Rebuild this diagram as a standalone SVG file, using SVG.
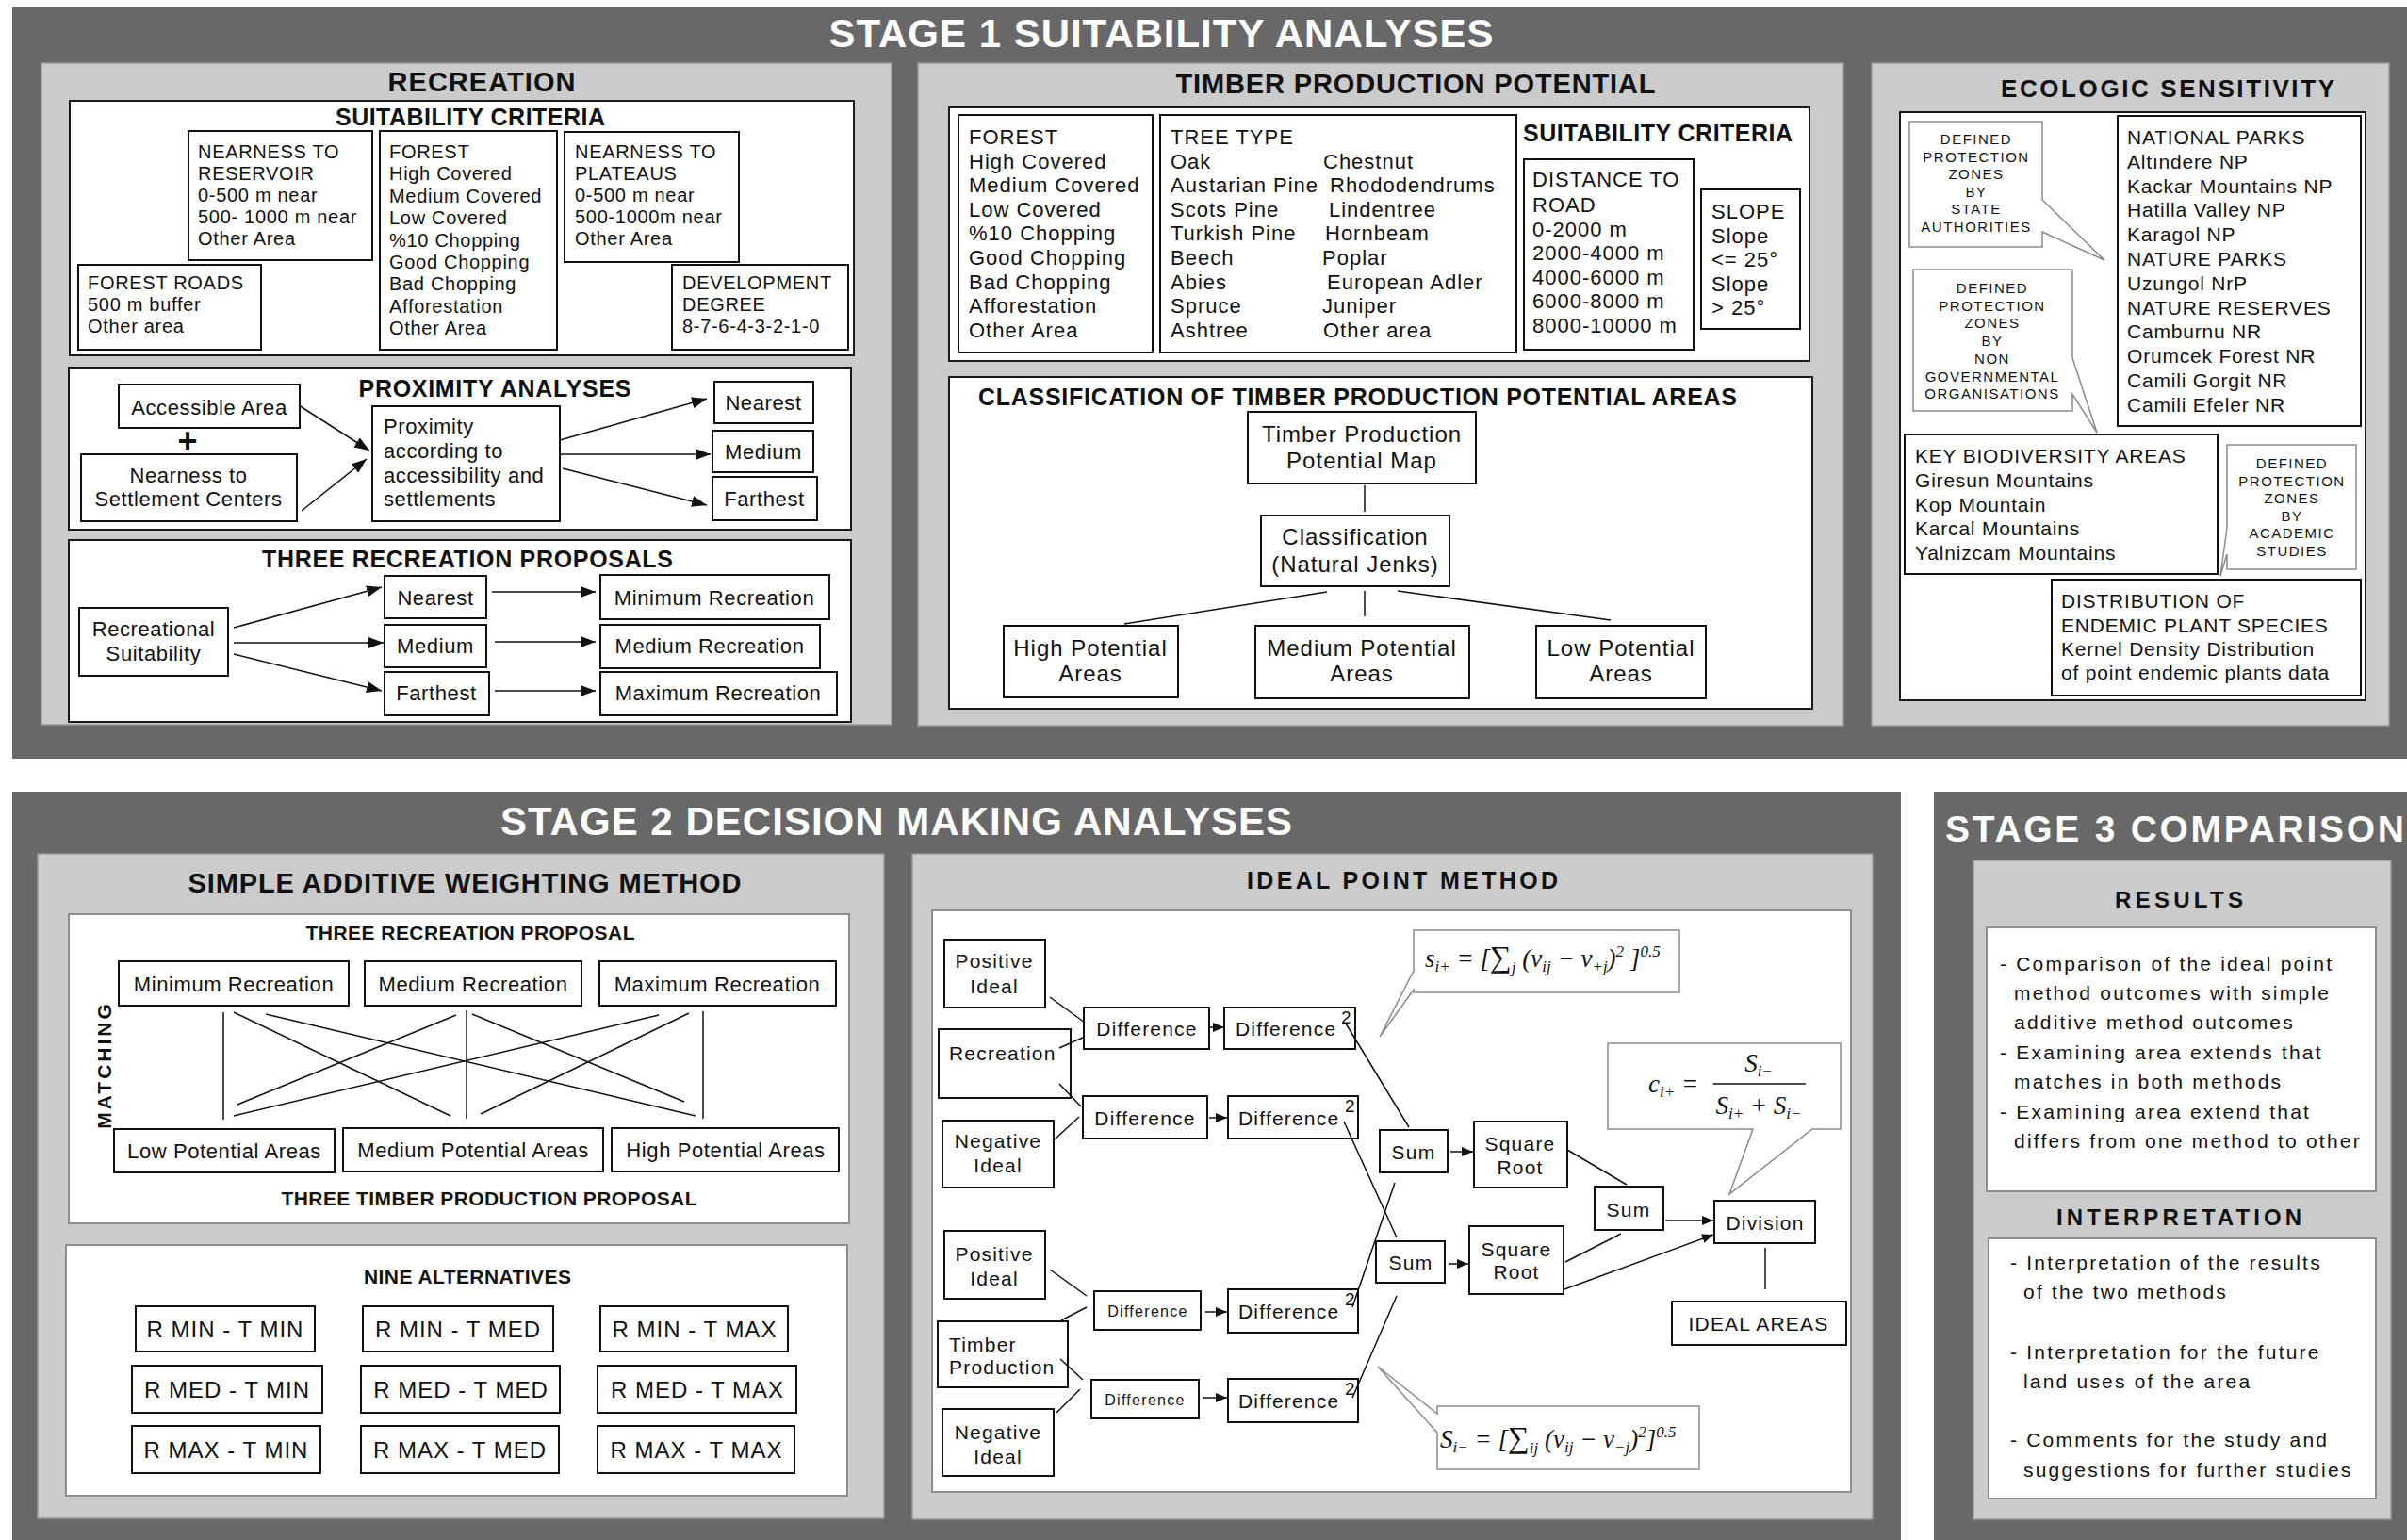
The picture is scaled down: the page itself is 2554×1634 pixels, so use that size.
<svg xmlns="http://www.w3.org/2000/svg" width="2554" height="1634" viewBox="0 0 2554 1634">
<defs>
<marker id="ah" viewBox="0 0 16 12" refX="16" refY="6" markerWidth="16" markerHeight="12" markerUnits="userSpaceOnUse" orient="auto"><path d="M0,0 L16,6 L0,12 Z" fill="#111"/></marker>
<marker id="as" viewBox="0 0 12 10" refX="12" refY="5" markerWidth="12" markerHeight="10" markerUnits="userSpaceOnUse" orient="auto"><path d="M0,0 L12,5 L0,10 Z" fill="#111"/></marker>
<style>
text{font-family:"Liberation Sans",Arial,Helvetica,sans-serif;fill:#111}
.dark{fill:#686868}
.panel{fill:#cbcbcb;stroke:#9a9a9a;stroke-width:1.5}
.wb{fill:#fff;stroke:#1a1a1a;stroke-width:2}
.wg{fill:#fff;stroke:#8e8e8e;stroke-width:2}
.b{fill:#fff;stroke:#111;stroke-width:2}
.co{fill:#fff;stroke:#8a8a8a;stroke-width:1.5}
.st{font-weight:bold;fill:#fff}
.h{font-weight:bold}
.m{text-anchor:middle}
.r20{font-size:20px;letter-spacing:0.7px}
.r22{font-size:22px;letter-spacing:0.6px}
.tm{font-size:22px;letter-spacing:1px}
.tc{font-size:24px;letter-spacing:1px}
.ec{font-size:21px;letter-spacing:0.8px}
.cs{font-size:15px;letter-spacing:1.5px}
.ip{font-size:21px;letter-spacing:1.2px}
.ips{font-size:16px;letter-spacing:1.3px}
.sup{font-size:19px}
.nine{font-size:24px;letter-spacing:1px}
.s3{font-size:21px;letter-spacing:2.2px}
.mth{font-family:"Liberation Serif","Times New Roman",serif;font-style:italic;font-size:27px}
.sb{font-size:17px}
.c{fill:none;stroke:#111;stroke-width:1.5}
.ab{marker-end:url(#ah)}
.as{marker-end:url(#as)}
</style>
</defs>
<rect width="2554" height="1634" fill="#fff"/>

<!-- STAGE 1 -->
<g id="stage1">
<rect class="dark" x="13" y="7" width="2541" height="798"/>
<text class="st m" x="1232" y="50" font-size="42" textLength="705">STAGE 1 SUITABILITY ANALYSES</text>
</g>

<g id="recreation">
<rect class="panel" x="44" y="67" width="902" height="702"/>
<text class="h m" x="511" y="97" font-size="29" textLength="199">RECREATION</text>
</g>
<g id="rec-criteria">
<rect class="wb" x="74" y="107" width="832" height="270"/>
<text class="h m" x="499" y="133" font-size="25" textLength="286">SUITABILITY CRITERIA</text>
</g>
<g id="rec-reservoir">
<rect class="b" x="200" y="139" width="195" height="137"/>
<text class="r20" x="210" y="168">NEARNESS TO<tspan x="210" dy="23">RESERVOIR</tspan><tspan x="210" dy="23">0-500 m near</tspan><tspan x="210" dy="23">500- 1000 m near</tspan><tspan x="210" dy="23">Other Area</tspan></text>
</g>
<g id="rec-forest">
<rect class="b" x="403" y="139" width="188" height="232"/>
<text class="r20" x="413" y="168">FOREST<tspan x="413" dy="23.4">High Covered</tspan><tspan x="413" dy="23.4">Medium Covered</tspan><tspan x="413" dy="23.4">Low Covered</tspan><tspan x="413" dy="23.4">%10 Chopping</tspan><tspan x="413" dy="23.4">Good Chopping</tspan><tspan x="413" dy="23.4">Bad Chopping</tspan><tspan x="413" dy="23.4">Afforestation</tspan><tspan x="413" dy="23.4">Other Area</tspan></text>
</g>
<g id="rec-plateaus">
<rect class="b" x="599" y="140" width="185" height="138"/>
<text class="r20" x="610" y="168">NEARNESS TO<tspan x="610" dy="23">PLATEAUS</tspan><tspan x="610" dy="23">0-500 m near</tspan><tspan x="610" dy="23">500-1000m near</tspan><tspan x="610" dy="23">Other Area</tspan></text>
</g>
<g id="rec-roads">
<rect class="b" x="83" y="281" width="194" height="90"/>
<text class="r20" x="93" y="307">FOREST ROADS<tspan x="93" dy="23">500 m buffer</tspan><tspan x="93" dy="23">Other area</tspan></text>
</g>
<g id="rec-devdegree">
<rect class="b" x="713" y="281" width="187" height="90"/>
<text class="r20" x="724" y="307">DEVELOPMENT<tspan x="724" dy="23">DEGREE</tspan><tspan x="724" dy="23">8-7-6-4-3-2-1-0</tspan></text>
</g>

<g id="rec-proximity">
<rect class="wb" x="73" y="390" width="830" height="172"/>
<text class="h m" x="525" y="421" font-size="25" textLength="289">PROXIMITY ANALYSES</text>
</g>
<g id="prox-accessible">
<rect class="b" x="126" y="408" width="192" height="46"/>
<text class="r22 m" x="222" y="440">Accessible Area</text>
</g>
<g id="prox-plus"><text class="h m" x="199" y="480" font-size="36">+</text></g>
<g id="prox-nearness">
<rect class="b" x="86" y="482" width="229" height="71"/>
<text class="r22 m" x="200" y="512">Nearness to<tspan x="200" dy="25">Settlement Centers</tspan></text>
</g>
<g id="prox-main">
<rect class="b" x="395" y="431" width="199" height="122"/>
<text class="r22" x="407" y="460">Proximity<tspan x="407" dy="26">according to</tspan><tspan x="407" dy="26">accessibility and</tspan><tspan x="407" dy="25">settlements</tspan></text>
</g>
<g id="prox-nearest">
<rect class="b" x="758" y="405" width="105" height="44"/>
<text class="r22 m" x="810" y="435">Nearest</text>
</g>
<g id="prox-medium">
<rect class="b" x="756" y="457" width="107" height="44"/>
<text class="r22 m" x="810" y="487">Medium</text>
</g>
<g id="prox-farthest">
<rect class="b" x="756" y="506" width="111" height="46"/>
<text class="r22 m" x="811" y="537">Farthest</text>
</g>

<g id="rec-proposals">
<rect class="wb" x="73" y="573" width="830" height="193"/>
<text class="h m" x="496" y="602" font-size="25" textLength="436">THREE RECREATION PROPOSALS</text>
</g>
<g id="prop-suitability">
<rect class="b" x="84" y="645" width="158" height="72"/>
<text class="r22 m" x="163" y="675">Recreational<tspan x="163" dy="26">Suitability</tspan></text>
</g>
<g id="prop-nearest">
<rect class="b" x="408" y="611" width="108" height="45"/>
<text class="r22 m" x="462" y="642">Nearest</text>
</g>
<g id="prop-medium">
<rect class="b" x="408" y="663" width="108" height="45"/>
<text class="r22 m" x="462" y="693">Medium</text>
</g>
<g id="prop-farthest">
<rect class="b" x="408" y="713" width="111" height="46"/>
<text class="r22 m" x="463" y="743">Farthest</text>
</g>
<g id="prop-minrec">
<rect class="b" x="637" y="610" width="243" height="47"/>
<text class="r22 m" x="758" y="642">Minimum Recreation</text>
</g>
<g id="prop-medrec">
<rect class="b" x="637" y="663" width="233" height="46"/>
<text class="r22 m" x="753" y="693">Medium Recreation</text>
</g>
<g id="prop-maxrec">
<rect class="b" x="637" y="713" width="251" height="46"/>
<text class="r22 m" x="762" y="743">Maximum Recreation</text>
</g>

<!-- TIMBER -->
<g id="timber">
<rect class="panel" x="974" y="67" width="982" height="703"/>
<text class="h m" x="1502" y="99" font-size="29" textLength="509">TIMBER PRODUCTION POTENTIAL</text>
</g>
<g id="timber-criteria">
<rect class="wb" x="1007" y="114" width="913" height="269"/>
<text class="h" x="1616" y="150" font-size="25" textLength="286">SUITABILITY CRITERIA</text>
</g>
<g id="timber-forest">
<rect class="b" x="1017" y="122" width="206" height="252"/>
<text class="tm" x="1028" y="153">FOREST<tspan x="1028" dy="25.6">High Covered</tspan><tspan x="1028" dy="25.6">Medium Covered</tspan><tspan x="1028" dy="25.6">Low Covered</tspan><tspan x="1028" dy="25.6">%10 Chopping</tspan><tspan x="1028" dy="25.6">Good Chopping</tspan><tspan x="1028" dy="25.6">Bad Chopping</tspan><tspan x="1028" dy="25.6">Afforestation</tspan><tspan x="1028" dy="25.6">Other Area</tspan></text>
</g>
<g id="timber-treetype">
<rect class="b" x="1231" y="122" width="378" height="252"/>
<text class="tm" x="1242" y="153">TREE TYPE<tspan x="1242" dy="25.6">Oak</tspan><tspan x="1242" dy="25.6">Austarian Pine</tspan><tspan x="1242" dy="25.6">Scots Pine</tspan><tspan x="1242" dy="25.6">Turkish Pine</tspan><tspan x="1242" dy="25.6">Beech</tspan><tspan x="1242" dy="25.6">Abies</tspan><tspan x="1242" dy="25.6">Spruce</tspan><tspan x="1242" dy="25.6">Ashtree</tspan></text>
<text class="tm" x="1404" y="178.6">Chestnut<tspan x="1411" dy="25.6">Rhododendrums</tspan><tspan x="1410" dy="25.6">Lindentree</tspan><tspan x="1406" dy="25.6">Hornbeam</tspan><tspan x="1403" dy="25.6">Poplar</tspan><tspan x="1408" dy="25.6">European Adler</tspan><tspan x="1403" dy="25.6">Juniper</tspan><tspan x="1404" dy="25.6">Other area</tspan></text>
</g>
<g id="timber-road">
<rect class="b" x="1617" y="169" width="180" height="202"/>
<text class="tm" x="1626" y="198">DISTANCE TO<tspan x="1626" dy="26.5">ROAD</tspan><tspan x="1626" dy="26">0-2000 m</tspan><tspan x="1626" dy="25.5">2000-4000 m</tspan><tspan x="1626" dy="25.5">4000-6000 m</tspan><tspan x="1626" dy="25.5">6000-8000 m</tspan><tspan x="1626" dy="25.5">8000-10000 m</tspan></text>
</g>
<g id="timber-slope">
<rect class="b" x="1805" y="201" width="105" height="148"/>
<text class="tm" x="1816" y="232">SLOPE<tspan x="1816" dy="25.5">Slope</tspan><tspan x="1816" dy="25.5">&lt;= 25°</tspan><tspan x="1816" dy="25.5">Slope</tspan><tspan x="1816" dy="25.5">&gt;  25°</tspan></text>
</g>

<g id="timber-classification">
<rect class="wb" x="1007" y="400" width="916" height="352"/>
<text class="h" x="1038" y="430" font-size="25" textLength="805">CLASSIFICATION OF TIMBER PRODUCTION POTENTIAL AREAS</text>
</g>
<g id="class-map">
<rect class="b" x="1324" y="437" width="242" height="76"/>
<text class="tc m" x="1445" y="469">Timber Production<tspan x="1445" dy="28">Potential Map</tspan></text>
</g>
<g id="class-jenks">
<rect class="b" x="1338" y="547" width="200" height="75"/>
<text class="tc m" x="1438" y="578">Classification<tspan x="1438" dy="29">(Natural Jenks)</tspan></text>
</g>
<g id="class-high">
<rect class="b" x="1065" y="664" width="185" height="76"/>
<text class="tc m" x="1157" y="696">High Potential<tspan x="1157" dy="27">Areas</tspan></text>
</g>
<g id="class-medium">
<rect class="b" x="1332" y="664" width="227" height="77"/>
<text class="tc m" x="1445" y="696">Medium Potential<tspan x="1445" dy="27">Areas</tspan></text>
</g>
<g id="class-low">
<rect class="b" x="1630" y="664" width="180" height="77"/>
<text class="tc m" x="1720" y="696">Low Potential<tspan x="1720" dy="27">Areas</tspan></text>
</g>

<!-- ECOLOGIC -->
<g id="ecologic">
<rect class="panel" x="1986" y="67" width="549" height="703"/>
<text class="h m" x="2300" y="103" font-size="26" textLength="354">ECOLOGIC SENSITIVITY</text>
<rect class="wb" x="2016" y="119" width="494" height="624"/>
</g>
<g id="eco-parks">
<rect class="b" x="2247" y="123" width="258" height="329"/>
<text class="ec" x="2257" y="153">NATIONAL PARKS<tspan x="2257" dy="25.8">Altındere NP</tspan><tspan x="2257" dy="25.8">Kackar Mountains NP</tspan><tspan x="2257" dy="25.8">Hatilla Valley NP</tspan><tspan x="2257" dy="25.8">Karagol NP</tspan><tspan x="2257" dy="25.8">NATURE PARKS</tspan><tspan x="2257" dy="25.8">Uzungol NrP</tspan><tspan x="2257" dy="25.8">NATURE RESERVES</tspan><tspan x="2257" dy="25.8">Camburnu NR</tspan><tspan x="2257" dy="25.8">Orumcek Forest NR</tspan><tspan x="2257" dy="25.8">Camili Gorgit NR</tspan><tspan x="2257" dy="25.8">Camili Efeler NR</tspan></text>
</g>
<g id="eco-state">
<path class="co" d="M2026,129 H2167 V212 L2233,276 L2167,246 V262 H2026 Z"/>
<text class="cs m" x="2097" y="153">DEFINED<tspan x="2097" dy="18.5">PROTECTION</tspan><tspan x="2097" dy="18.5">ZONES</tspan><tspan x="2097" dy="18.5">BY</tspan><tspan x="2097" dy="18.5">STATE</tspan><tspan x="2097" dy="18.5">AUTHORITIES</tspan></text>
</g>
<g id="eco-ngo">
<path class="co" d="M2030,286 H2199 V380 L2225,459 L2199,418 V436 H2030 Z"/>
<text class="cs m" x="2114" y="311">DEFINED<tspan x="2114" dy="18.7">PROTECTION</tspan><tspan x="2114" dy="18.7">ZONES</tspan><tspan x="2114" dy="18.7">BY</tspan><tspan x="2114" dy="18.7">NON</tspan><tspan x="2114" dy="18.7">GOVERNMENTAL</tspan><tspan x="2114" dy="18.7">ORGANISATIONS</tspan></text>
</g>
<g id="eco-kba">
<rect class="b" x="2021" y="461" width="332" height="148"/>
<text class="ec" x="2032" y="491">KEY BIODIVERSITY AREAS<tspan x="2032" dy="25.8">Giresun Mountains</tspan><tspan x="2032" dy="25.8">Kop Mountain</tspan><tspan x="2032" dy="25.8">Karcal Mountains</tspan><tspan x="2032" dy="25.8">Yalnizcam Mountains</tspan></text>
</g>
<g id="eco-academic">
<path class="co" d="M2363,472 H2500 V604 H2363 V588 L2356,611 L2363,560 Z"/>
<text class="cs m" x="2432" y="497">DEFINED<tspan x="2432" dy="18.6">PROTECTION</tspan><tspan x="2432" dy="18.6">ZONES</tspan><tspan x="2432" dy="18.6">BY</tspan><tspan x="2432" dy="18.6">ACADEMIC</tspan><tspan x="2432" dy="18.6">STUDIES</tspan></text>
</g>
<g id="eco-endemic">
<rect class="b" x="2177" y="615" width="328" height="123"/>
<text class="ec" x="2187" y="645">DISTRIBUTION OF<tspan x="2187" dy="25.5">ENDEMIC PLANT SPECIES</tspan><tspan x="2187" dy="25.5">Kernel Density Distribution</tspan><tspan x="2187" dy="25">of point endemic plants data</tspan></text>
</g>

<!-- STAGE 2 -->
<g id="stage2">
<rect class="dark" x="13" y="840" width="2004" height="794"/>
<text class="st m" x="951" y="886" font-size="42" textLength="840">STAGE 2 DECISION MAKING ANALYSES</text>
</g>
<g id="saw">
<rect class="panel" x="40" y="906" width="898" height="705"/>
<text class="h m" x="493" y="947" font-size="29" textLength="587">SIMPLE ADDITIVE WEIGHTING METHOD</text>
</g>
<g id="saw-matching">
<rect class="wg" x="73" y="970" width="828" height="328"/>
<text class="h m" x="499" y="997" font-size="21" textLength="349">THREE RECREATION PROPOSAL</text>
<text class="h m" x="519" y="1279" font-size="21" textLength="441">THREE TIMBER PRODUCTION PROPOSAL</text>
<text class="h m" transform="translate(118,1130) rotate(-90)" font-size="21" letter-spacing="3">MATCHING</text>
</g>
<g id="saw-minrec"><rect class="b" x="126" y="1020" width="244" height="47"/><text class="r22 m" x="248" y="1052">Minimum Recreation</text></g>
<g id="saw-medrec"><rect class="b" x="387" y="1020" width="230" height="47"/><text class="r22 m" x="502" y="1052">Medium Recreation</text></g>
<g id="saw-maxrec"><rect class="b" x="636" y="1020" width="251" height="47"/><text class="r22 m" x="761" y="1052">Maximum Recreation</text></g>
<g id="saw-low"><rect class="b" x="121" y="1198" width="234" height="46"/><text class="r22 m" x="238" y="1229">Low Potential Areas</text></g>
<g id="saw-medpot"><rect class="b" x="364" y="1197" width="276" height="46"/><text class="r22 m" x="502" y="1228">Medium Potential Areas</text></g>
<g id="saw-high"><rect class="b" x="649" y="1197" width="241" height="46"/><text class="r22 m" x="770" y="1228">High Potential Areas</text></g>

<g id="saw-nine">
<rect class="wg" x="70" y="1321" width="829" height="266"/>
<text class="h m" x="496" y="1362" font-size="21" textLength="220">NINE ALTERNATIVES</text>
</g>
<g id="alt-rmin-tmin"><rect class="b" x="144" y="1386" width="190" height="48"/><text class="nine m" x="239" y="1419">R MIN - T MIN</text></g>
<g id="alt-rmin-tmed"><rect class="b" x="385" y="1386" width="202" height="48"/><text class="nine m" x="486" y="1419">R MIN - T MED</text></g>
<g id="alt-rmin-tmax"><rect class="b" x="637" y="1386" width="199" height="48"/><text class="nine m" x="737" y="1419">R MIN - T MAX</text></g>
<g id="alt-rmed-tmin"><rect class="b" x="140" y="1449" width="202" height="50"/><text class="nine m" x="241" y="1483">R MED - T MIN</text></g>
<g id="alt-rmed-tmed"><rect class="b" x="383" y="1449" width="211" height="50"/><text class="nine m" x="489" y="1483">R MED - T MED</text></g>
<g id="alt-rmed-tmax"><rect class="b" x="634" y="1449" width="211" height="50"/><text class="nine m" x="740" y="1483">R MED - T MAX</text></g>
<g id="alt-rmax-tmin"><rect class="b" x="140" y="1513" width="200" height="50"/><text class="nine m" x="240" y="1547">R MAX - T MIN</text></g>
<g id="alt-rmax-tmed"><rect class="b" x="383" y="1513" width="210" height="50"/><text class="nine m" x="488" y="1547">R MAX - T MED</text></g>
<g id="alt-rmax-tmax"><rect class="b" x="634" y="1513" width="209" height="50"/><text class="nine m" x="739" y="1547">R MAX - T MAX</text></g>

<g id="ideal">
<rect class="panel" x="968" y="906" width="1019" height="706"/>
<text class="h m" x="1488" y="943" font-size="25" textLength="330">IDEAL POINT METHOD</text>
<rect class="wg" x="989" y="966" width="975" height="617"/>
</g>
<g id="ip-pos1"><rect class="b" x="1002" y="997" width="107" height="72"/><text class="ip m" x="1055" y="1027">Positive<tspan x="1055" dy="27">Ideal</tspan></text></g>
<g id="ip-rec"><rect class="b" x="996" y="1092" width="140" height="73"/><text class="ip" x="1007" y="1125">Recreation</text></g>
<g id="ip-neg1"><rect class="b" x="1000" y="1189" width="118" height="71"/><text class="ip m" x="1059" y="1218">Negative<tspan x="1059" dy="26">Ideal</tspan></text></g>
<g id="ip-diff1"><rect class="b" x="1150" y="1069" width="133" height="44"/><text class="ip m" x="1217" y="1099">Difference</text></g>
<g id="ip-diff2"><rect class="b" x="1149" y="1163" width="132" height="45"/><text class="ip m" x="1215" y="1194">Difference</text></g>
<g id="ip-sq1"><rect class="b" x="1299" y="1069" width="139" height="44"/><text class="ip" x="1311" y="1099">Difference</text><text class="sup" x="1423" y="1086">2</text></g>
<g id="ip-sq2"><rect class="b" x="1303" y="1163" width="138" height="45"/><text class="ip" x="1314" y="1194">Difference</text><text class="sup" x="1427" y="1180">2</text></g>
<g id="ip-pos2"><rect class="b" x="1002" y="1306" width="107" height="72"/><text class="ip m" x="1055" y="1338">Positive<tspan x="1055" dy="26">Ideal</tspan></text></g>
<g id="ip-timber"><rect class="b" x="995" y="1402" width="138" height="70"/><text class="ip" x="1007" y="1434">Timber<tspan x="1007" dy="24">Production</tspan></text></g>
<g id="ip-neg2"><rect class="b" x="1000" y="1495" width="118" height="71"/><text class="ip m" x="1059" y="1527">Negative<tspan x="1059" dy="26">Ideal</tspan></text></g>
<g id="ip-diff3"><rect class="b" x="1161" y="1370" width="113" height="41"/><text class="ips m" x="1218" y="1397">Difference</text></g>
<g id="ip-diff4"><rect class="b" x="1158" y="1464" width="114" height="41"/><text class="ips m" x="1215" y="1491">Difference</text></g>
<g id="ip-sq3"><rect class="b" x="1303" y="1368" width="138" height="46"/><text class="ip" x="1314" y="1399">Difference</text><text class="sup" x="1427" y="1385">2</text></g>
<g id="ip-sq4"><rect class="b" x="1303" y="1463" width="138" height="46"/><text class="ip" x="1314" y="1494">Difference</text><text class="sup" x="1427" y="1480">2</text></g>
<g id="ip-sum1"><rect class="b" x="1464" y="1199" width="72" height="45"/><text class="ip m" x="1500" y="1230">Sum</text></g>
<g id="ip-sum2"><rect class="b" x="1460" y="1317" width="73" height="44"/><text class="ip m" x="1497" y="1347">Sum</text></g>
<g id="ip-sqrt1"><rect class="b" x="1564" y="1190" width="99" height="70"/><text class="ip m" x="1613" y="1221">Square<tspan x="1613" dy="25">Root</tspan></text></g>
<g id="ip-sqrt2"><rect class="b" x="1559" y="1301" width="100" height="72"/><text class="ip m" x="1609" y="1333">Square<tspan x="1609" dy="24">Root</tspan></text></g>
<g id="ip-sum3"><rect class="b" x="1692" y="1259" width="73" height="46"/><text class="ip m" x="1728" y="1291">Sum</text></g>
<g id="ip-division"><rect class="b" x="1819" y="1274" width="107" height="45"/><text class="ip m" x="1873" y="1305">Division</text></g>
<g id="ip-idealareas"><rect class="b" x="1774" y="1381" width="185" height="46"/><text class="ip m" x="1866" y="1412" letter-spacing="2">IDEAL AREAS</text></g>
<g id="ip-formula-plus">
<path class="co" d="M1500,987 H1782 V1053 H1500 V1050 L1464,1100 L1500,1030 Z"/>
<text class="mth" x="1512" y="1026">s<tspan class="sb" dy="5">i+</tspan><tspan dy="-5"> = [</tspan><tspan font-style="normal" font-size="32">∑</tspan><tspan class="sb" dy="6">j</tspan><tspan dy="-6"> (v</tspan><tspan class="sb" dy="5">ij</tspan><tspan dy="-5"> − v</tspan><tspan class="sb" dy="5">+j</tspan><tspan dy="-5">)</tspan><tspan class="sb" dy="-11">2</tspan><tspan dy="11"> ]</tspan><tspan class="sb" dy="-11">0.5</tspan></text>
</g>
<g id="ip-formula-c">
<path class="co" d="M1706,1107 H1953 V1198 H1923 L1835,1267 L1860,1198 H1706 Z"/>
<text class="mth" x="1749" y="1159">c<tspan class="sb" dy="5">i+</tspan><tspan dy="-5"> =</tspan></text>
<path d="M1818,1150 H1916" stroke="#111" stroke-width="1.5"/>
<text class="mth m" x="1866" y="1137">S<tspan class="sb" dy="5">i−</tspan></text>
<text class="mth m" x="1866" y="1182">S<tspan class="sb" dy="5">i+</tspan><tspan dy="-5"> + S</tspan><tspan class="sb" dy="5">i−</tspan></text>
</g>
<g id="ip-formula-minus">
<path class="co" d="M1525,1492 H1803 V1559 H1525 V1520 L1462,1450 L1525,1500 Z"/>
<text class="mth" x="1528" y="1536">S<tspan class="sb" dy="5">i−</tspan><tspan dy="-5"> = [</tspan><tspan font-style="normal" font-size="32">∑</tspan><tspan class="sb" dy="6">ij</tspan><tspan dy="-6"> (v</tspan><tspan class="sb" dy="5">ij</tspan><tspan dy="-5"> − v</tspan><tspan class="sb" dy="5">−j</tspan><tspan dy="-5">)</tspan><tspan class="sb" dy="-11">2</tspan><tspan dy="11">]</tspan><tspan class="sb" dy="-11">0.5</tspan></text>
</g>

<!-- STAGE 3 -->
<g id="stage3">
<rect class="dark" x="2052" y="840" width="502" height="794"/>
<text class="st" x="2064" y="893" font-size="39" textLength="487">STAGE 3 COMPARISON</text>
<rect class="panel" x="2094" y="913" width="443" height="699"/>
</g>
<g id="s3-results">
<text class="h m" x="2312" y="963" font-size="24" textLength="136">RESULTS</text>
<rect class="wg" x="2108" y="984" width="413" height="280"/>
<text class="s3" x="2122" y="1030">- Comparison of the ideal point</text>
<text class="s3" x="2137" y="1061">method outcomes with simple</text>
<text class="s3" x="2137" y="1092">additive method outcomes</text>
<text class="s3" x="2122" y="1124">- Examining area extends that</text>
<text class="s3" x="2137" y="1155">matches in both methods</text>
<text class="s3" x="2122" y="1187">- Examining area extend that</text>
<text class="s3" x="2137" y="1218">differs from one method to other</text>
</g>
<g id="s3-interpretation">
<text class="h m" x="2312" y="1300" font-size="24" textLength="260">INTERPRETATION</text>
<rect class="wg" x="2110" y="1314" width="411" height="276"/>
<text class="s3" x="2133" y="1347">- Interpretation of the results</text>
<text class="s3" x="2147" y="1378">of the two methods</text>
<text class="s3" x="2133" y="1442">- Interpretation for the future</text>
<text class="s3" x="2147" y="1473">land uses of the area</text>
<text class="s3" x="2133" y="1535">- Comments for the study and</text>
<text class="s3" x="2147" y="1567">suggestions for further studies</text>
</g>

<!-- CONNECTORS -->
<g id="connectors">
<path class="c ab" d="M317,430 L392,478"/>
<path class="c ab" d="M320,542 L389,487"/>
<path class="c ab" d="M594,467 L750,423"/>
<path class="c ab" d="M594,482 L754,482"/>
<path class="c ab" d="M597,497 L750,536"/>
<path class="c ab" d="M248,666 L405,623"/>
<path class="c ab" d="M248,682 L407,682"/>
<path class="c ab" d="M248,694 L405,733"/>
<path class="c ab" d="M522,628 L632,628"/>
<path class="c ab" d="M525,681 L632,681"/>
<path class="c ab" d="M525,733 L632,733"/>
<path class="c" d="M1448,515 L1448,543"/>
<path class="c" d="M1408,628 L1193,662"/>
<path class="c" d="M1448,627 L1448,654"/>
<path class="c" d="M1483,627 L1709,658"/>
<path class="c" d="M237,1074 V1188 M495,1072 V1187 M746,1073 V1187"/>
<path class="c" d="M248,1074 L478,1184 M282,1076 L738,1184 M484,1077 L252,1172 M501,1076 L726,1169 M699,1077 L248,1184 M731,1075 L510,1182"/>
<path class="c" d="M1114,1058 L1151,1085 M1124,1112 L1151,1100 M1124,1150 L1147,1174 M1119,1209 L1145,1185"/>
<path class="c as" d="M1283,1090 L1299,1090"/>
<path class="c as" d="M1283,1186 L1302,1186"/>
<path class="c" d="M1428,1086 L1495,1196 M1426,1190 L1482,1313"/>
<path class="c" d="M1114,1347 L1153,1375 M1126,1401 L1153,1387 M1125,1442 L1149,1464 M1121,1499 L1146,1474"/>
<path class="c as" d="M1279,1392 L1302,1392"/>
<path class="c as" d="M1276,1483 L1302,1483"/>
<path class="c" d="M1435,1387 L1480,1255 M1435,1483 L1482,1375"/>
<path class="c as" d="M1539,1222 L1563,1222"/>
<path class="c as" d="M1537,1341 L1558,1341"/>
<path class="c" d="M1663,1220 L1726,1257 M1661,1339 L1720,1309"/>
<path class="c as" d="M1767,1295 L1818,1295"/>
<path class="c as" d="M1660,1368 L1818,1310"/>
<path class="c" d="M1873,1324 L1873,1368"/>
</g>
</svg>
